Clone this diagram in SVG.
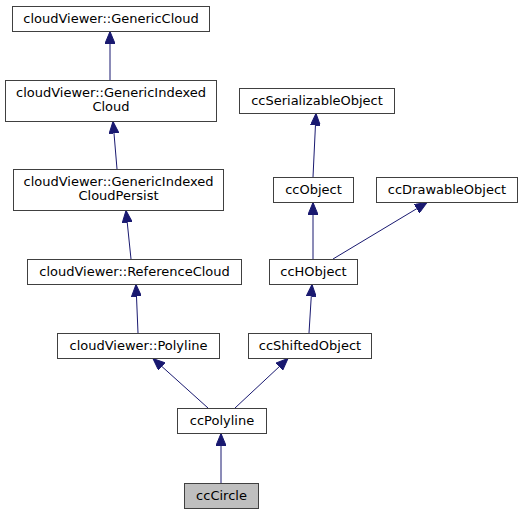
<svg xmlns="http://www.w3.org/2000/svg" width="522" height="515" viewBox="0 0 522 515">
<style>
.box{fill:#ffffff;stroke:#404040;stroke-width:1}
.cur{fill:#bfbfbf;stroke:#404040;stroke-width:1}
text{font-family:"DejaVu Sans","Liberation Sans",sans-serif;font-size:13px;fill:#000000;text-anchor:middle}
.edge{stroke:#191970;stroke-width:1;fill:none;marker-end:url(#arr)}
</style>
<defs>
<marker id="arr" markerUnits="userSpaceOnUse" viewBox="0 0 12 10" refX="12" refY="5" markerWidth="12" markerHeight="10" orient="auto">
<path d="M0,0 L12,5 L0,10 Z" fill="#191970" stroke="#191970" stroke-width="1"/>
</marker>
</defs>
<rect width="522" height="515" fill="#ffffff"/>
<g id="connectors">
<line class="edge" x1="110" y1="80" x2="110" y2="31.5"/>
<line class="edge" x1="117" y1="169" x2="113" y2="121.5"/>
<line class="edge" x1="131" y1="259" x2="126" y2="210.5"/>
<line class="edge" x1="138" y1="333" x2="136" y2="284.5"/>
<line class="edge" x1="208" y1="408" x2="153" y2="358.5"/>
<line class="edge" x1="235" y1="408" x2="288" y2="358.5"/>
<line class="edge" x1="221" y1="483" x2="221" y2="433.5"/>
<line class="edge" x1="309" y1="333" x2="312" y2="284.5"/>
<line class="edge" x1="313" y1="259" x2="313" y2="202.5"/>
<line class="edge" x1="333" y1="259" x2="427" y2="202.5"/>
<line class="edge" x1="313" y1="177" x2="316" y2="113.5"/>
</g>
<g id="GenericCloud"><rect class="box" x="12.5" y="6.5" width="197" height="25"/><text x="111" y="23">cloudViewer::GenericCloud</text></g>
<g id="GenericIndexedCloud"><rect class="box" x="5.5" y="80.5" width="211" height="41"/><text x="111" y="97">cloudViewer::GenericIndexed</text><text x="111" y="111">Cloud</text></g>
<g id="GenericIndexedCloudPersist"><rect class="box" x="13.5" y="169.5" width="210" height="41"/><text x="118.5" y="186">cloudViewer::GenericIndexed</text><text x="118.5" y="200">CloudPersist</text></g>
<g id="ReferenceCloud"><rect class="box" x="27.5" y="259.5" width="214" height="25"/><text x="134.5" y="276">cloudViewer::ReferenceCloud</text></g>
<g id="Polyline"><rect class="box" x="57.5" y="333.5" width="162" height="25"/><text x="138.5" y="350">cloudViewer::Polyline</text></g>
<g id="ccPolyline"><rect class="box" x="177.5" y="408.5" width="89" height="25"/><text x="222" y="425">ccPolyline</text></g>
<g id="ccCircle"><rect class="cur" x="184.5" y="483.5" width="74" height="25"/><text x="221.5" y="500">ccCircle</text></g>
<g id="ccSerializableObject"><rect class="box" x="239.5" y="88.5" width="155" height="25"/><text x="317" y="105">ccSerializableObject</text></g>
<g id="ccObject"><rect class="box" x="273.5" y="177.5" width="80" height="25"/><text x="313.5" y="194">ccObject</text></g>
<g id="ccDrawableObject"><rect class="box" x="376.5" y="177.5" width="141" height="25"/><text x="447" y="194">ccDrawableObject</text></g>
<g id="ccHObject"><rect class="box" x="269.5" y="259.5" width="88" height="25"/><text x="313.5" y="276">ccHObject</text></g>
<g id="ccShiftedObject"><rect class="box" x="248.5" y="333.5" width="123" height="25"/><text x="310" y="350">ccShiftedObject</text></g>
</svg>
